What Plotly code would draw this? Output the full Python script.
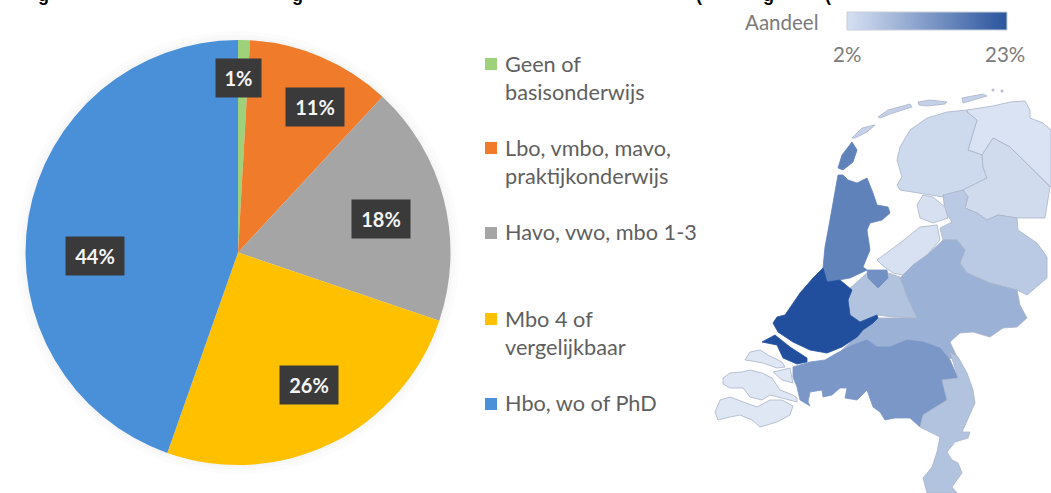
import plotly.graph_objects as go
from plotly.colors import sample_colorscale

# ---- data ----
education = ["Geen of<br>basisonderwijs", "Lbo, vmbo, mavo,<br>praktijkonderwijs", "Havo, vwo, mbo 1-3",
             "Mbo 4 of<br>vergelijkbaar", "Hbo, wo of PhD"]
education_share = [0.9, 11.0, 18.3, 25.2, 44.6]
education_label = ["1%", "11%", "18%", "26%", "44%"]
education_color = ["#9fd07a", "#ef7b2b", "#a5a5a5", "#ffc000", "#4a90d8"]

# map outlines, in map units of the picture
GRONINGEN = [(967,110),(993,106),(1010,102),(1025,101),(1030,110),(1030,118),(1043,123),(1051,130),(1051,187),(1010,147),(993,138),(982,155),(968,150),(972,137),(977,120),(967,112)]
FRIESLAND = [(967,110),(947,112),(927,118),(910,130),(900,147),(897,160),(902,177),(897,185),(900,190),(917,193),(930,195),(943,197),(963,190),(987,178),(983,167),(982,155),(968,150),(972,137),(977,120),(967,112)]
DRENTHE = [(982,155),(993,138),(1010,147),(1050,187),(1045,218),(1017,218),(998,215),(987,220),(977,213),(965,208),(968,197),(963,190),(987,178),(983,167)]
OVERIJSSEL = [(943,195),(963,190),(968,197),(965,208),(977,213),(987,220),(998,215),(1017,218),(1018,230),(1037,243),(1047,257),(1047,278),(1027,295),(1017,290),(990,283),(967,273),(960,263),(965,250),(957,240),(943,240),(940,228),(952,222),(945,212)]
POLDER = [(917,205),(923,195),(933,197),(945,207),(948,218),(933,223),(920,218)]
FLEVOLAND = [(877,260),(900,243),(920,227),(937,225),(940,240),(927,255),(913,265),(903,275),(893,273),(882,265)]
GELDERLAND = [(943,240),(957,240),(965,250),(960,263),(967,273),(990,283),(1017,290),(1020,305),(1027,318),(1017,327),(1003,328),(990,337),(973,332),(960,333),(950,342),(957,357),(945,360),(860,360),(840,352),(860,333),(878,318),(917,318),(907,297),(900,278),(913,265),(927,255)]
UTRECHT = [(848,290),(867,273),(877,285),(888,273),(900,277),(907,297),(917,318),(893,317),(877,315),(860,322),(850,315),(847,300)]
GOOI = [(867,270),(887,270),(888,278),(878,288),(868,278)]
NOORD_HOLLAND = [(843,175),(848,180),(857,183),(867,178),(873,193),(877,205),(888,207),(890,213),(882,220),(870,223),(867,230),(870,250),(863,267),(867,270),(850,278),(840,280),(827,282),(823,268),(825,247),(830,220),(835,190),(838,175)]
ZUID_HOLLAND = [(823,268),(827,282),(840,280),(852,290),(848,300),(850,315),(860,322),(877,315),(878,318),(873,323),(863,330),(857,337),(842,347),(827,353),(810,350),(793,342),(778,332),(773,323),(777,317),(785,315),(800,293),(813,278)]
GOEREE = [(762,342),(775,335),(790,347),(807,358),(807,362),(797,364),(783,358),(777,345)]
SCHOUWEN = [(745,360),(750,352),(760,350),(768,355),(782,362),(785,367),(777,368),(763,363),(752,361)]
THOLEN = [(773,372),(790,368),(793,383),(782,380)]
BEVELAND = [(723,378),(730,373),(742,372),(750,370),(762,373),(772,378),(780,390),(793,395),(797,398),(797,402),(782,398),(770,395),(762,400),(750,397),(743,388),(730,388),(723,384)]
VLAANDEREN = [(715,412),(720,400),(730,397),(743,402),(757,407),(770,400),(782,400),(793,406),(790,415),(777,422),(760,427),(752,420),(740,415),(730,417),(718,420)]
BRABANT = [(793,367),(810,362),(825,360),(837,353),(853,345),(867,340),(877,347),(890,347),(907,340),(923,342),(940,348),(950,360),(958,378),(942,380),(947,400),(923,415),(920,427),(910,418),(895,418),(885,420),(880,412),(873,407),(867,390),(857,400),(845,398),(847,388),(840,388),(832,395),(823,397),(822,390),(810,392),(808,402),(810,406),(800,400),(797,387),(793,377)]
LIMBURG = [(950,352),(958,357),(967,373),(973,390),(975,403),(967,420),(962,432),(970,432),(968,438),(955,442),(947,452),(952,460),(958,463),(962,473),(952,487),(957,493),(927,493),(923,478),(932,467),(937,452),(940,437),(920,427),(923,415),(947,400),(942,380),(958,378)]
TEXEL = [(852,142),(857,150),(853,162),(843,170),(838,168),(842,155)]
VLIELAND = [(852,138),(862,128),(875,125),(867,132),(855,138)]
TERSCHELLING = [(878,117),(888,110),(910,104),(912,107),(893,113),(880,118)]
AMELAND = [(918,102),(930,100),(947,102),(945,104),(927,106),(919,105)]
SCHIERMONNIKOOG = [(962,98),(983,94),(987,96),(963,103)]

region_share = [
    ("Groningen", GRONINGEN, 2.6), ("Friesland", FRIESLAND, 4.0), ("Drenthe", DRENTHE, 3.7),
    ("Overijssel", OVERIJSSEL, 6.0), ("Noordoostpolder", POLDER, 3.0), ("Flevoland", FLEVOLAND, 2.8),
    ("Gelderland", GELDERLAND, 9.5), ("Utrecht", UTRECHT, 7.0), ("Noord-Holland", NOORD_HOLLAND, 16.0),
    ("Gooi", GOOI, 14.0), ("Zuid-Holland", ZUID_HOLLAND, 23.0), ("Goeree", GOEREE, 23.0),
    ("Schouwen", SCHOUWEN, 2.0), ("Tholen", THOLEN, 2.0), ("Beveland", BEVELAND, 2.0), ("Vlaanderen", VLAANDEREN, 2.0),
    ("Noord-Brabant", BRABANT, 13.0), ("Limburg", LIMBURG, 7.0), ("Texel", TEXEL, 16.0),
    ("Vlieland", VLIELAND, 5.0), ("Terschelling", TERSCHELLING, 5.0), ("Ameland", AMELAND, 5.0),
    ("Schiermonnikoog", SCHIERMONNIKOOG, 5.0),
]
scale_min, scale_max = 2, 23
scale_colors = [[0, "#dfe7f5"], [1, "#214f9e"]]
scale_steps = list(range(scale_min, scale_max))

W, H = 1051, 493
FONT = "Lato"
TXT = "#5f5f5f"


def tone(v):
    return sample_colorscale(scale_colors, (v - scale_min) / (scale_max - scale_min))[0]


fig = go.Figure()

# pie
PIE_CX, PIE_CY, PIE_R = 238, 252.5, 212.5
fig.add_trace(go.Pie(values=education_share, labels=education, sort=False, direction="clockwise", rotation=0,
                     marker=dict(colors=education_color, line=dict(width=0)), textinfo="none", hoverinfo="label+percent",
                     showlegend=False,
                     domain=dict(x=[(PIE_CX - PIE_R) / W, (PIE_CX + PIE_R) / W],
                                 y=[1 - (PIE_CY + PIE_R) / H, 1 - (PIE_CY - PIE_R) / H])))

# map
for name, outline, share in region_share:
    xs = [p[0] for p in outline] + [outline[0][0]]
    ys = [p[1] for p in outline] + [outline[0][1]]
    c = tone(share)
    dark = share >= 12
    fig.add_trace(go.Scatter(x=xs, y=ys, mode="lines", fill="toself", fillcolor=c, name=name,
                             line=dict(color=c if dark else "#a8b4c8", width=0.8),
                             hoverinfo="name", showlegend=False))
fig.add_trace(go.Scatter(x=[993, 1002], y=[90, 91], mode="markers", showlegend=False, hoverinfo="skip",
                         marker=dict(symbol="circle", size=3, color="#b5bdd0")))

# colour ramp: one cell per percent between the two end values, smoothed
RAMP_X0, RAMP_X1, RAMP_Y0, RAMP_Y1 = 847, 1007, 12, 30
ramp_cell = (RAMP_X1 - RAMP_X0) / (scale_max - scale_min)
ramp_x = [RAMP_X0 + ramp_cell * (s - scale_min + 0.5) for s in scale_steps]
ramp_y = [RAMP_Y0 + (RAMP_Y1 - RAMP_Y0) * 0.25, RAMP_Y0 + (RAMP_Y1 - RAMP_Y0) * 0.75]
fig.add_trace(go.Heatmap(x=ramp_x, y=ramp_y, z=[scale_steps, scale_steps],
                         colorscale=[[0, "#d3ddf0"], [1, "#2d579f"]], zsmooth="best",
                         showscale=False, hoverinfo="skip"))

# legend swatches
LEG_Y = [64, 148, 233, 319, 404]
LEG_TXT_Y = [78, 162, 232, 333, 403]
fig.add_trace(go.Scatter(x=[491] * 5, y=LEG_Y, mode="markers", showlegend=False, hoverinfo="skip",
                         marker=dict(symbol="square", size=12, color=education_color)))

ann = []
for lab, y in zip(education, LEG_TXT_Y):
    ann.append(dict(x=503, y=y, xref="x", yref="y", text=lab, showarrow=False, xanchor="left", yanchor="middle",
                    align="left", font=dict(family=FONT, size=21.7, color=TXT)))

LABEL_POS = [(238.5, 77.5, 43), (315, 107, 56), (381, 219, 56), (309, 385, 56), (95, 256, 56)]
for lab, (x, y, w) in zip(education_label, LABEL_POS):
    ann.append(dict(x=x, y=y, xref="x", yref="y", text="<b>%s</b>" % lab, showarrow=False, width=w, height=36,
                    bgcolor="#3a3a3a", align="center", valign="middle",
                    font=dict(family=FONT, size=20, color="#f4f4f4")))

ann.append(dict(x=781, y=22, xref="x", yref="y", text="Aandeel", showarrow=False,
                font=dict(family=FONT, size=20.5, color="#7b7b7b")))
ann.append(dict(x=847, y=54, xref="x", yref="y", text="2%", showarrow=False,
                font=dict(family=FONT, size=20.5, color="#7b7b7b")))
ann.append(dict(x=1005, y=54, xref="x", yref="y", text="23%", showarrow=False,
                font=dict(family=FONT, size=20.5, color="#7b7b7b")))

# descenders of the cropped title line along the top edge
for ch, x in [("g", 36), ("g", 290), ("(", 699), ("g", 776), ("(", 833)]:
    ann.append(dict(x=x / W, y=1, xref="paper", yref="paper", text="<b>%s</b>" % ch, showarrow=False,
                    yanchor="bottom", yshift=-7, font=dict(family="Liberation Sans", size=18, color="#000000")))

# soft shadow round the pie
halo = [dict(type="circle", xref="x", yref="y", x0=PIE_CX - PIE_R - d, x1=PIE_CX + PIE_R + d,
             y0=PIE_CY - PIE_R - d, y1=PIE_CY + PIE_R + d, fillcolor="#808080", opacity=0.025,
             line=dict(width=0), layer="below") for d in (2, 5, 9)]

fig.update_layout(
    width=W, height=H, margin=dict(l=0, r=0, t=0, b=0),
    paper_bgcolor="#ffffff", plot_bgcolor="#ffffff",
    xaxis=dict(range=[0, W], visible=False, fixedrange=True),
    yaxis=dict(range=[H, 0], visible=False, fixedrange=True),
    shapes=halo + [dict(type="rect", x0=RAMP_X0, x1=RAMP_X1, y0=RAMP_Y0, y1=RAMP_Y1, xref="x", yref="y",
                        line=dict(color="#c9ced8", width=1), layer="above")],
    annotations=ann,
)
fig.write_html("out.html", config={"displayModeBar": False},
               post_script="document.body.style.margin='0';document.documentElement.style.overflow='hidden';")
